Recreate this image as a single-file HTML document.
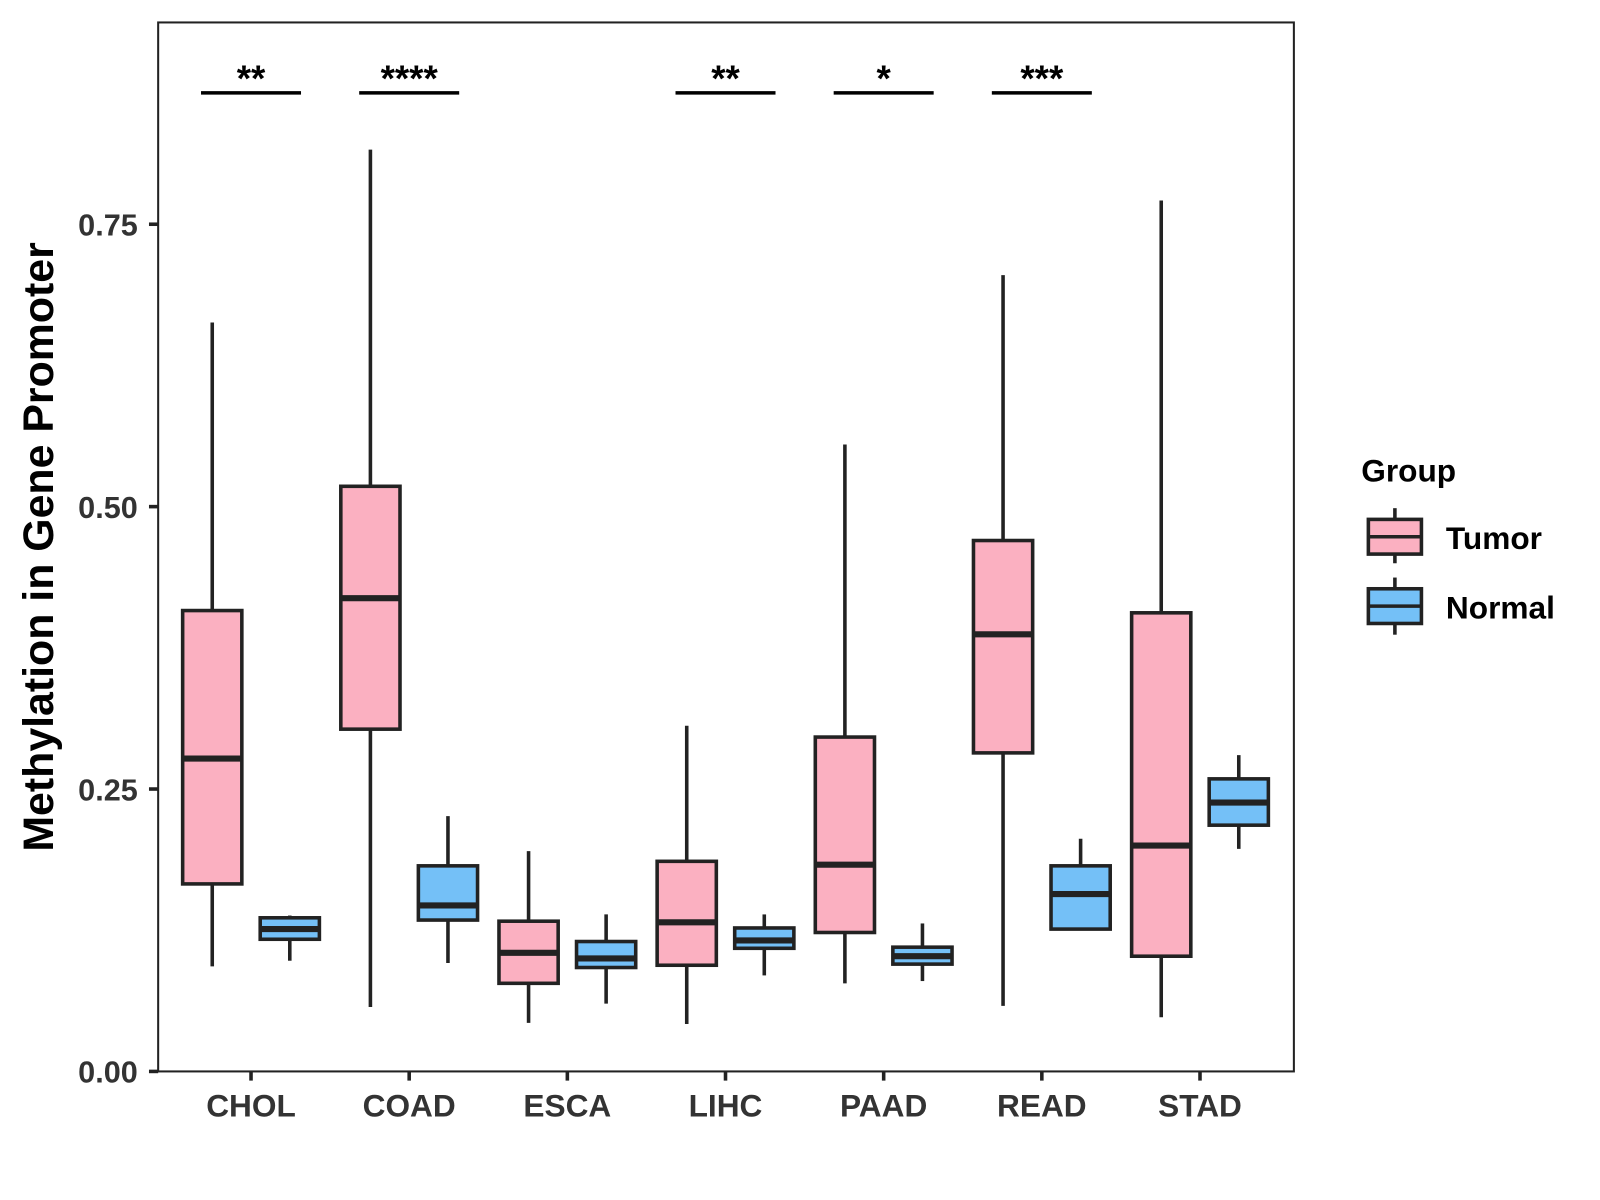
<!DOCTYPE html>
<html><head><meta charset="utf-8"><style>html,body{margin:0;padding:0;background:#fff}svg{display:block}</style></head>
<body>
<svg id="chart" width="1600" height="1200" viewBox="0 0 1568 1176" xmlns="http://www.w3.org/2000/svg" font-family="Liberation Sans, Arial, sans-serif">
<rect x="0" y="0" width="1568" height="1176" fill="#fff"/>
<g id="marks"></g>
<rect x="155" y="22" width="1113" height="1028" fill="none" stroke="#222" stroke-width="2"/>
<text transform="translate(52,536) rotate(-90)" text-anchor="middle" font-size="42" font-weight="bold" fill="#000">Methylation in Gene Promoter</text>
<g>
<text x="1334" y="472" font-size="31" font-weight="bold" fill="#000">Group</text>
<g>
<line x1="1367" y1="498" x2="1367" y2="552" stroke="#222" stroke-width="3.5"/>
<rect x="1341" y="509" width="52" height="34" fill="#FBB0C1" stroke="#222" stroke-width="3.5"/>
<line x1="1341" y1="526" x2="1393" y2="526" stroke="#222" stroke-width="3.5"/>
<text x="1417" y="538" font-size="31" font-weight="bold" fill="#000">Tumor</text>
</g>
<g>
<line x1="1367" y1="566" x2="1367" y2="622" stroke="#222" stroke-width="3.5"/>
<rect x="1341" y="577" width="52" height="34" fill="#74C0F7" stroke="#222" stroke-width="3.5"/>
<line x1="1341" y1="594" x2="1393" y2="594" stroke="#222" stroke-width="3.5"/>
<text x="1417" y="606" font-size="31" font-weight="bold" fill="#000">Normal</text>
</g>
</g>
</svg>
<script>
const categories = ["CHOL","COAD","ESCA","LIHC","PAAD","READ","STAD"];
const tumorMin = [0.093,0.057,0.043,0.042,0.078,0.058,0.048];
const tumorQ1 = [0.166,0.303,0.078,0.094,0.123,0.282,0.102];
const tumorMed = [0.277,0.419,0.105,0.132,0.183,0.387,0.200];
const tumorQ3 = [0.408,0.518,0.133,0.186,0.296,0.470,0.406];
const tumorMax = [0.663,0.816,0.195,0.306,0.555,0.705,0.771];
const normalMin = [0.098,0.096,0.060,0.085,0.080,0.125,0.197];
const normalQ1 = [0.117,0.134,0.092,0.109,0.095,0.126,0.218];
const normalMed = [0.126,0.147,0.100,0.116,0.102,0.157,0.238];
const normalQ3 = [0.136,0.182,0.115,0.127,0.110,0.182,0.259];
const normalMax = [0.138,0.226,0.139,0.139,0.131,0.206,0.280];
const signif = ["**","****","","**","*","***",""];
const yTicks = [0,0.25,0.5,0.75];
const yTickLabels = ["0.00","0.25","0.50","0.75"];

const NS = "http://www.w3.org/2000/svg";
const g = document.getElementById('marks');
const y = v => 1050 - 1107 * v;
const x = i => 246 + 155 * i;
function el(tag, attrs, parent) {
  const e = document.createElementNS(NS, tag);
  for (const k in attrs) e.setAttribute(k, attrs[k]);
  (parent || g).appendChild(e);
  return e;
}
yTicks.forEach((t, i) => {
  const tk = el('line', {x1:146, x2:155, y1:y(t), y2:y(t), stroke:'#222', 'stroke-width':3.5});
  
  
  const tl = el('text', {x:135, y:y(t)+11, 'text-anchor':'end', 'font-size':30, 'font-weight':'bold', fill:'#333'});
  tl.textContent = yTickLabels[i];
  
  
});
categories.forEach((c, i) => {
  const tk = el('line', {x1:x(i), x2:x(i), y1:1050, y2:1059, stroke:'#222', 'stroke-width':3.5});
  
  
  const tl = el('text', {x:x(i), y:1094, 'text-anchor':'middle', 'font-size':31, 'font-weight':'bold', fill:'#333'});
  tl.textContent = c;
  
  
});
function box(cx, mn, q1, md, q3, mx, fill, name) {
  const grp = el('g', {});
  
  
  el('line', {x1:cx, x2:cx, y1:y(mx), y2:y(mn), stroke:'#222', 'stroke-width':3.5}, grp);
  el('rect', {x:cx-29, y:y(q3), width:58, height:y(q1)-y(q3), fill:fill, stroke:'#222', 'stroke-width':3.5}, grp);
  el('line', {x1:cx-29, x2:cx+29, y1:y(md), y2:y(md), stroke:'#222', 'stroke-width':6}, grp);
}
categories.forEach((c, i) => {
  box(x(i)-38, tumorMin[i], tumorQ1[i], tumorMed[i], tumorQ3[i], tumorMax[i], '#FBB0C1', 'box-tumor-' + c.toLowerCase());
  box(x(i)+38, normalMin[i], normalQ1[i], normalMed[i], normalQ3[i], normalMax[i], '#74C0F7', 'box-normal-' + c.toLowerCase());
  if (signif[i]) {
    const b = el('line', {x1:x(i)-49, x2:x(i)+49, y1:91, y2:91, stroke:'#000', 'stroke-width':3.5});
    
    
    const t = el('text', {x:x(i), y:89, 'text-anchor':'middle', 'font-size':36, 'font-weight':'bold', fill:'#000'});
    t.textContent = signif[i];
    
    
  }
});
</script>
</body></html>
